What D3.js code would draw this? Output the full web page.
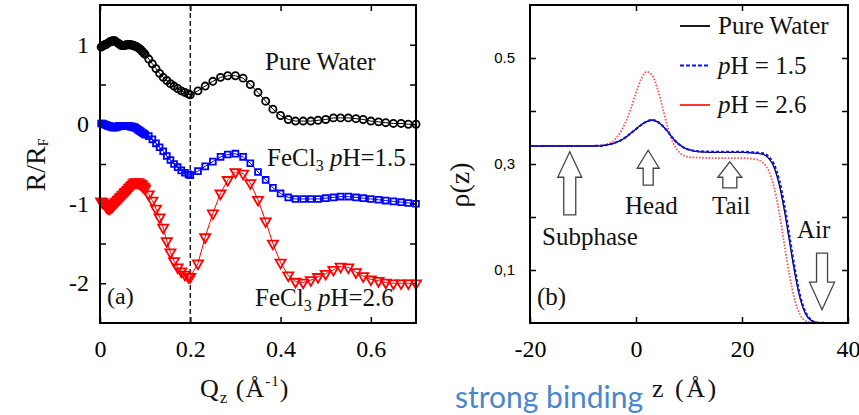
<!DOCTYPE html>
<html>
<head>
<meta charset="utf-8">
<script src="https://cdn.jsdelivr.net/npm/d3@7"></script>
<style>
  body { margin: 0; background: #fff; }
  svg { display: block; }
  svg text { font-family: "Liberation Serif", "Times New Roman", serif; }
</style>
</head>
<body>
<svg id="chart" width="859" height="415"></svg>
<script>
// ---- panel (a): reflectivity, R/RF (offset curves) vs Qz ----
const qValues = [0.0025, 0.005, 0.0075, 0.01, 0.0125, 0.015, 0.0175, 0.02, 0.0225, 0.025,
    0.0275, 0.03, 0.0325, 0.035, 0.0375, 0.04, 0.0425, 0.045, 0.0475, 0.05,
    0.0525, 0.055, 0.0575, 0.06, 0.0625, 0.065, 0.0675, 0.07, 0.0725, 0.075,
    0.0775, 0.08, 0.0825, 0.085, 0.0875, 0.09, 0.0925, 0.095, 0.0975, 0.1,
    0.108, 0.116, 0.124, 0.132, 0.14, 0.148, 0.156, 0.164, 0.172, 0.18, 0.188, 0.196,
    0.2, 0.217, 0.233, 0.25, 0.267, 0.283, 0.3, 0.317, 0.333, 0.35, 0.367, 0.383,
    0.4, 0.417, 0.433, 0.45, 0.467, 0.483, 0.5, 0.517, 0.533, 0.55, 0.567, 0.583,
    0.6, 0.617, 0.633, 0.65, 0.667, 0.683, 0.7];

const pureWater = [0.97, 0.98, 0.99, 1.0, 1.0, 1.01, 1.02, 1.03, 1.04, 1.04,
    1.05, 1.05, 1.05, 1.04, 1.03, 1.02, 1.01, 1.0, 0.99, 0.99,
    0.99, 0.99, 1.0, 1.0, 1.0, 1.0, 1.0, 1.0, 0.99, 0.99,
    0.98, 0.98, 0.97, 0.96, 0.95, 0.94, 0.92, 0.91, 0.89, 0.88,
    0.82, 0.76, 0.70, 0.64, 0.59, 0.55, 0.51, 0.48, 0.45, 0.42, 0.40, 0.38,
    0.37, 0.42, 0.48, 0.54, 0.59, 0.61, 0.61, 0.58, 0.50, 0.40, 0.29, 0.19,
    0.11, 0.06, 0.04, 0.04, 0.04, 0.05, 0.06, 0.08, 0.08, 0.08, 0.07, 0.06,
    0.04, 0.03, 0.02, 0.01, 0.01, 0.0, 0.0];

const fecl3pH15 = [0.01, 0.01, 0.0, 0.0, -0.01, -0.01, -0.02, -0.02, -0.03, -0.03,
    -0.04, -0.04, -0.04, -0.04, -0.03, -0.03, -0.02, -0.02, -0.02, -0.02,
    -0.02, -0.02, -0.02, -0.02, -0.02, -0.02, -0.03, -0.03, -0.03, -0.04,
    -0.04, -0.05, -0.06, -0.07, -0.08, -0.09, -0.10, -0.11, -0.12, -0.13,
    -0.15, -0.19, -0.24, -0.29, -0.34, -0.40, -0.45, -0.50, -0.54, -0.58, -0.61, -0.63,
    -0.64, -0.59, -0.53, -0.47, -0.41, -0.38, -0.37, -0.41, -0.49, -0.60, -0.70, -0.80,
    -0.87, -0.92, -0.94, -0.94, -0.94, -0.94, -0.93, -0.92, -0.91, -0.91, -0.92, -0.93,
    -0.94, -0.95, -0.96, -0.97, -0.98, -0.99, -1.0];

const fecl3pH26 = [-0.97, -0.98, -0.99, -1.0, -1.02, -1.04, -1.05, -1.06, -1.05, -1.04,
    -1.03, -1.01, -1.0, -0.98, -0.97, -0.95, -0.94, -0.92, -0.91, -0.89,
    -0.88, -0.86, -0.85, -0.83, -0.82, -0.80, -0.79, -0.77, -0.76, -0.74,
    -0.73, -0.73, -0.73, -0.73, -0.74, -0.75, -0.76, -0.78, -0.79, -0.81,
    -0.88, -0.96, -1.06, -1.17, -1.30, -1.47, -1.61, -1.72, -1.80, -1.85, -1.89, -1.92,
    -1.92, -1.75, -1.42, -1.12, -0.87, -0.70, -0.60, -0.62, -0.74, -0.95, -1.22, -1.50,
    -1.74, -1.90, -1.98, -1.99, -1.96, -1.92, -1.88, -1.83, -1.79, -1.80, -1.86, -1.91,
    -1.95, -1.97, -1.99, -2.0, -2.0, -2.0, -2.0];

const qTicks = [0, 0.2, 0.4, 0.6];
const rTicks = [-2, -1.5, -1, -0.5, 0, 0.5, 1];
const qMarker = 0.2;

// ---- panel (b): electron density profile rho(z) ----
const zValues = [-20, -10, -8, -6, -5, -4, -3, -2, -1, 0, 1, 2, 3, 4, 5, 6, 7, 8, 9, 10,
    12, 16, 20, 22, 24, 25, 26, 27, 28, 29, 30, 31, 32, 33, 34, 36, 40];

const rhoWater = [0.334, 0.334, 0.334, 0.335, 0.337, 0.340, 0.344, 0.350, 0.358, 0.366,
    0.374, 0.380, 0.383, 0.380, 0.372, 0.361, 0.348, 0.338, 0.331, 0.327,
    0.323, 0.322, 0.322, 0.321, 0.318, 0.311, 0.295, 0.262, 0.212, 0.152,
    0.092, 0.045, 0.017, 0.005, 0.001, 0, 0];

const rhoPH15 = [0.334, 0.334, 0.334, 0.335, 0.337, 0.340, 0.344, 0.350, 0.358, 0.366,
    0.374, 0.380, 0.383, 0.380, 0.372, 0.361, 0.348, 0.338, 0.331, 0.327,
    0.324, 0.323, 0.323, 0.322, 0.320, 0.314, 0.300, 0.270, 0.222, 0.161,
    0.100, 0.050, 0.020, 0.006, 0.001, 0, 0];

const rhoPH26 = [0.334, 0.334, 0.334, 0.336, 0.339, 0.346, 0.359, 0.378, 0.404, 0.434,
    0.461, 0.474, 0.468, 0.444, 0.407, 0.369, 0.340, 0.324, 0.316, 0.313,
    0.312, 0.311, 0.311, 0.310, 0.302, 0.288, 0.258, 0.210, 0.148, 0.088,
    0.042, 0.015, 0.004, 0.001, 0, 0, 0];

const zTicks = [-20, 0, 20, 40];
const rhoTicks = [0.1, 0.2, 0.3, 0.4, 0.5];
const rhoTickLabels = { 0.1: "0,1", 0.3: "0,3", 0.5: "0.5" };

// arrows: z of shaft centre, rho at tip / head base / shaft end
const arrows = [
    { name: "Subphase", z: -12.5, tip: 0.323, base: 0.275, end: 0.204, head: 12, shaft: 6 },
    { name: "Head", z: 2.3, tip: 0.326, base: 0.292, end: 0.260, head: 11, shaft: 5 },
    { name: "Tail", z: 17.7, tip: 0.304, base: 0.275, end: 0.255, head: 12, shaft: 7 },
    { name: "Air", z: 35.1, tip: 0.025, base: 0.077, end: 0.132, head: 12.5, shaft: 5.5 }
];

const serif = '"Liberation Serif", "Times New Roman", serif';
const sans = '"Liberation Sans", Arial, sans-serif';
const svg = d3.select("#chart");

function addText(x, y, size) {
    return svg.append("text").attr("x", x).attr("y", y)
        .style("font-family", serif).style("font-size", size + "px").attr("fill", "#111");
}

// ================= panel (a) =================
const qx = d3.scaleLinear().domain([0, 0.7]).range([100, 416]);
const ry = d3.scaleLinear().domain([-2.5, 1.5]).range([323, 5]);

function styleAxis(g, size, family) {
    g.attr("font-family", null).attr("font-size", null);
    g.select(".domain").remove();
    g.selectAll(".tick line").attr("stroke", "#000").attr("stroke-width", 1.5);
    g.selectAll(".tick text").style("font-family", family || serif)
        .style("font-size", size + "px").attr("fill", "#000");
}

svg.append("g").attr("transform", "translate(0,323)")
    .call(d3.axisBottom(qx).tickValues(qTicks).tickSize(-6).tickPadding(17).tickFormat(d => String(d)))
    .call(g => styleAxis(g, 24));
svg.append("g").attr("transform", "translate(0,5)")
    .call(d3.axisTop(qx).tickValues(qTicks).tickSize(-6).tickFormat(""))
    .call(g => styleAxis(g, 24));
svg.append("g").attr("transform", "translate(100,0)")
    .call(d3.axisLeft(ry).tickValues(rTicks).tickSize(-6).tickPadding(11)
        .tickFormat(d => Number.isInteger(d) ? String(d) : ""))
    .call(g => styleAxis(g, 24));
svg.append("g").attr("transform", "translate(416,0)")
    .call(d3.axisRight(ry).tickValues(rTicks).tickSize(-6).tickFormat(""))
    .call(g => styleAxis(g, 24));

// dashed marker line at Qz = 0.2
svg.append("line")
    .attr("x1", qx(qMarker)).attr("x2", qx(qMarker))
    .attr("y1", ry.range()[1]).attr("y2", ry.range()[0])
    .attr("stroke", "#222").attr("stroke-width", 1.5).attr("stroke-dasharray", "5,3");

const seriesA = [
    { values: pureWater, color: "#000", symbol: d3.symbolCircle, size: 40, rotate: 0 },
    { values: fecl3pH15, color: "#0000ff", symbol: d3.symbolSquare, size: 34, rotate: 0 },
    { values: fecl3pH26, color: "#ff0000", symbol: d3.symbolTriangle, size: 44, rotate: 180 }
];

const lineA = d3.line().x(d => qx(d[0])).y(d => ry(d[1]));

seriesA.forEach(s => {
    const pts = qValues.map((q, i) => [q, s.values[i]]);
    svg.append("path").datum(pts)
        .attr("d", lineA)
        .attr("fill", "none").attr("stroke", s.color).attr("stroke-width", 1);
    svg.append("g").selectAll("path").data(pts).join("path")
        .attr("d", d3.symbol().type(s.symbol).size(s.size))
        .attr("transform", d => `translate(${qx(d[0])},${ry(d[1])}) rotate(${s.rotate})`)
        .attr("fill", "none").attr("stroke", s.color).attr("stroke-width", 1.8);
});

svg.append("rect").attr("x", 100).attr("y", 5).attr("width", 316).attr("height", 318)
    .attr("fill", "none").attr("stroke", "#000").attr("stroke-width", 2);

// annotations (a)
addText(265, 70, 25).text("Pure Water");

function fecl3Label(x, y, ph) {
    const t = addText(x, y, 25);
    t.append("tspan").text("FeCl");
    t.append("tspan").style("font-size", "16px").attr("dy", 5).text("3");
    t.append("tspan").attr("dy", -5).text(" ");
    t.append("tspan").style("font-style", "italic").text("p");
    t.append("tspan").text("H=" + ph);
}
fecl3Label(267, 166, "1.5");
fecl3Label(255, 306, "2.6");

addText(107, 304, 24).text("(a)");

// axis titles (a)
const yTitleA = svg.append("text").attr("transform", "translate(45,165) rotate(-90)")
    .attr("text-anchor", "middle").style("font-family", serif).style("font-size", "28px").attr("fill", "#111");
yTitleA.append("tspan").text("R/R");
yTitleA.append("tspan").style("font-size", "14px").attr("dy", 3).text("F");

const xTitleA = addText(200, 397, 26).style("letter-spacing", "1px");
xTitleA.append("tspan").text("Q");
xTitleA.append("tspan").style("font-size", "17px").attr("dy", 6).text("z");
xTitleA.append("tspan").attr("dy", -6).text("\u00a0(Å");
xTitleA.append("tspan").style("font-size", "15px").attr("dy", -11).text("-1");
xTitleA.append("tspan").attr("dy", 11).text(")");

// ================= panel (b) =================
const zx = d3.scaleLinear().domain([-20, 40]).range([530, 848]);
const py = d3.scaleLinear().domain([0, 0.6]).range([323, 5]);

svg.append("g").attr("transform", "translate(0,323)")
    .call(d3.axisBottom(zx).tickValues(zTicks).tickSize(-6).tickPadding(17).tickFormat(d => String(d)))
    .call(g => styleAxis(g, 24));
svg.append("g").attr("transform", "translate(0,5)")
    .call(d3.axisTop(zx).tickValues([0, 20]).tickSize(-6).tickFormat(""))
    .call(g => styleAxis(g, 24));
svg.append("g").attr("transform", "translate(530,0)")
    .call(d3.axisLeft(py).tickValues(rhoTicks).tickSize(-6).tickPadding(15)
        .tickFormat(d => rhoTickLabels[d] || ""))
    .call(g => styleAxis(g, 15, sans));
svg.append("g").attr("transform", "translate(848,0)")
    .call(d3.axisRight(py).tickValues(rhoTicks).tickSize(-6).tickFormat(""))
    .call(g => styleAxis(g, 15));

const lineB = d3.line().x(d => zx(d[0])).y(d => py(d[1])).curve(d3.curveMonotoneX);

const seriesB = [
    { values: rhoPH26, color: "#ff3838", width: 1.8, dash: "1.6,1.6", opacity: 0.85 },
    { values: rhoWater, color: "#000", width: 1.3, dash: null, opacity: 1 },
    { values: rhoPH15, color: "#1010ff", width: 2.2, dash: "3,2", opacity: 1 }
];
seriesB.forEach(s => {
    svg.append("path").datum(zValues.map((z, i) => [z, s.values[i]]))
        .attr("d", lineB).attr("fill", "none")
        .attr("stroke", s.color).attr("stroke-width", s.width)
        .attr("stroke-dasharray", s.dash).attr("opacity", s.opacity);
});

// hollow block arrows
arrows.forEach(a => {
    const cx = zx(a.z), yt = py(a.tip), yb = py(a.base), ye = py(a.end);
    const p = d3.path();
    p.moveTo(cx, yt);
    p.lineTo(cx + a.head, yb);
    p.lineTo(cx + a.shaft, yb);
    p.lineTo(cx + a.shaft, ye);
    p.lineTo(cx - a.shaft, ye);
    p.lineTo(cx - a.shaft, yb);
    p.lineTo(cx - a.head, yb);
    p.closePath();
    svg.append("path").attr("d", p.toString())
        .attr("fill", "#fff").attr("stroke", "#444").attr("stroke-width", 1.3);
});

svg.append("rect").attr("x", 530).attr("y", 5).attr("width", 318).attr("height", 318)
    .attr("fill", "none").attr("stroke", "#000").attr("stroke-width", 2);

// annotations (b)
const notes = [
    { text: "Subphase", x: 542, y: 245 },
    { text: "Head", x: 625, y: 214 },
    { text: "Tail", x: 712, y: 214 },
    { text: "Air", x: 797, y: 238 },
    { text: "(b)", x: 537, y: 305 }
];
notes.forEach(d => addText(d.x, d.y, 25).text(d.text));

// legend
const legend = [
    { label: "Pure Water", italicP: false, color: "#000", dash: null },
    { label: "H = 1.5", italicP: true, color: "#1010ff", dash: "4,2" },
    { label: "H = 2.6", italicP: true, color: "#ff2020", dash: null }
];
legend.forEach((d, i) => {
    const cy = 26 + i * 39.5;
    svg.append("line").attr("x1", 680).attr("x2", 710).attr("y1", cy).attr("y2", cy)
        .attr("stroke", d.color).attr("stroke-width", 1.8).attr("stroke-dasharray", d.dash);
    const t = addText(718, cy + 8, 25);
    if (d.italicP) t.append("tspan").style("font-style", "italic").text("p");
    t.append("tspan").text(d.label);
});

// axis titles (b)
svg.append("text").attr("transform", "translate(469,185) rotate(-90)")
    .attr("text-anchor", "middle").style("font-family", serif).style("font-size", "28px")
    .attr("fill", "#111").text("ρ(z)");

addText(652, 397, 26).style("letter-spacing", "2.5px").text("z\u00a0(Å)");

// slide caption overlapping the figure
svg.append("text").attr("x", 455).attr("y", 408)
    .style("font-family", 'Lato, "Open Sans", sans-serif').style("font-size", "30px")
    .attr("fill", "#4a86cc").text("strong binding");
</script>
</body>
</html>
